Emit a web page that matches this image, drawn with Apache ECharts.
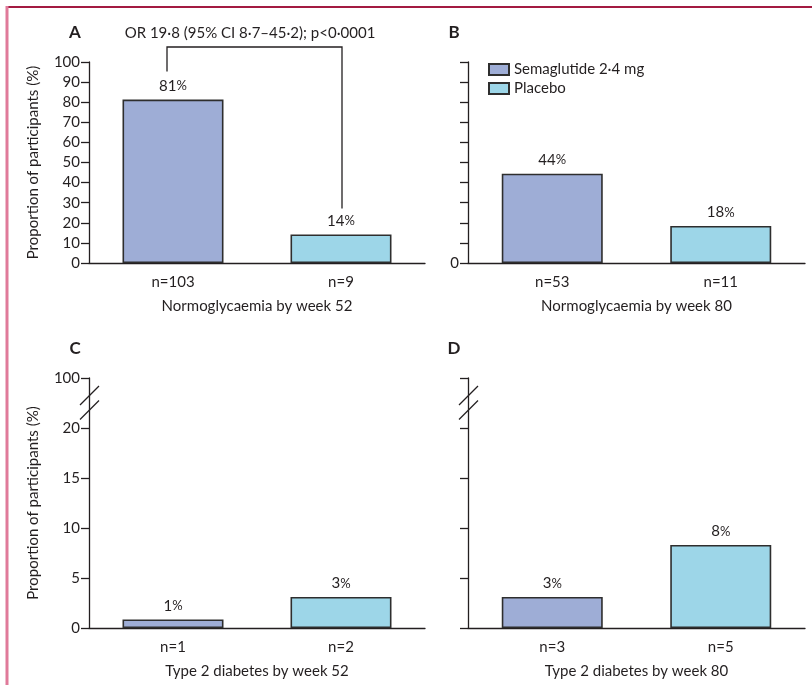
<!DOCTYPE html>
<html>
<head>
<meta charset="utf-8">
<script src="https://cdn.jsdelivr.net/npm/echarts@6/dist/echarts.min.js"></script>
<style>
html,body{margin:0;padding:0;background:#fff;}
#main{width:812px;height:685px;}
</style>
</head>
<body>
<div id="main"></div>
<script>
// data
const seriesNames = ['Semaglutide 2·4 mg', 'Placebo'];
const catA = ['n=103', 'n=9'];
const catB = ['n=53', 'n=11'];
const catC = ['n=1', 'n=2'];
const catD = ['n=3', 'n=5'];
const valA = [81.3, 14.2];
const valB = [44.4, 18.4];
const valC = [0.85, 3.1];
const valD = [3.1, 8.3];
const titleA = 'Normoglycaemia by week 52';
const titleB = 'Normoglycaemia by week 80';
const titleC = 'Type 2 diabetes by week 52';
const titleD = 'Type 2 diabetes by week 80';
const ticksTop = ['0', '10', '20', '30', '40', '50', '60', '70', '80', '90', '100'];
const ticksBottom = ['0', '5', '10', '15', '20', '100']; // 100 sits above the axis break
const oddsText = 'OR 19·8 (95% CI 8·7–45·2); p<0·0001';
const yName = 'Proportion of participants (%)';

const FONT = 'Lato';
const FS = 15;
const INK = '#231f20';
const colors = ['#9eadd6', '#9dd6e8'];

let myChart = echarts.init(document.getElementById('main'));

const grids = [
    {left: 89, top: 62, width: 336, height: 201},
    {left: 468, top: 62, width: 337, height: 201},
    {left: 89, top: 378, width: 336, height: 250},
    {left: 468, top: 378, width: 337, height: 250}
];

function xAxis(i, cats, name) {
    return {
        type: 'category', gridIndex: i, data: cats,
        name: name, nameLocation: 'middle', nameGap: 36,
        nameTextStyle: {fontFamily: FONT, fontSize: FS, color: INK},
        axisLine: {lineStyle: {color: INK, width: 1.3}},
        axisTick: {length: 6, lineStyle: {color: INK, width: 1.3}},
        axisLabel: {fontFamily: FONT, fontSize: FS, color: INK, margin: 12}
    };
}

function yAxis(i, max, interval, fmt, name) {
    return {
        type: 'value', gridIndex: i, min: 0, max: max, interval: interval,
        name: name || '', nameLocation: 'middle', nameGap: 48, nameRotate: 90,
        nameTextStyle: {fontFamily: FONT, fontSize: FS, color: INK},
        splitLine: {show: false},
        axisLine: {show: true, lineStyle: {color: INK, width: 1.3}},
        axisTick: {show: true, length: 8, lineStyle: {color: INK, width: 1.3}},
        axisLabel: {fontFamily: FONT, fontSize: FS, color: INK, margin: 9, formatter: fmt}
    };
}

function pctLabel(p) {
    return '{v|' + Math.round(p.value) + '}{p|%}';
}

function barSeries(i, vals) {
    return seriesNames.map(function (name, k) {
        return {
            name: name, type: 'bar', xAxisIndex: i, yAxisIndex: i,
            barWidth: 101, barGap: '-100%',
            data: vals.map(function (v, j) { return j === k ? v : '-'; }),
            itemStyle: {color: colors[k], borderColor: '#2e2e2e', borderWidth: 1.6},
            label: {
                show: true, position: 'top', distance: 6, formatter: pctLabel,
                rich: {
                    v: {fontFamily: FONT, fontSize: FS, color: INK},
                    p: {fontFamily: FONT, fontSize: 13, color: INK}
                }
            }
        };
    });
}

let option = {
    animation: false,
    grid: grids,
    legend: {
        left: 483, top: 57, orient: 'vertical', itemWidth: 20, itemHeight: 11, itemGap: 4,
        icon: 'rect', data: seriesNames,
        textStyle: {fontFamily: FONT, fontSize: FS, color: INK}
    },
    xAxis: [xAxis(0, catA, titleA), xAxis(1, catB, titleB), xAxis(2, catC, titleC), xAxis(3, catD, titleD)],
    yAxis: [
        yAxis(0, 100, 10, function (v) { return ticksTop[v / 10]; }, yName),
        yAxis(1, 100, 10, function (v) { return v === 0 ? ticksTop[0] : ''; }),
        yAxis(2, 25, 5, function (v) { return ticksBottom[v / 5]; }, yName),
        yAxis(3, 25, 5, function () { return ''; })
    ],
    series: [].concat(barSeries(0, valA), barSeries(1, valB), barSeries(2, valC), barSeries(3, valD))
};
myChart.setOption(option);

// decorations: frame, panel letters, bracket, axis breaks
function px(i, x, y) { return myChart.convertToPixel({gridIndex: i}, [x, y]); }

let g = [];
g.push({type: 'line', shape: {x1: 6, y1: 7, x2: 812, y2: 7}, style: {stroke: '#a31a41', lineWidth: 2}});
g.push({type: 'line', shape: {x1: 7, y1: 6, x2: 7, y2: 685}, style: {stroke: '#e07a9a', lineWidth: 3}});

const letters = [['A', 0], ['B', 1], ['C', 2], ['D', 3]];
letters.forEach(function (l) {
    let gr = grids[l[1]];
    g.push({type: 'text', x: gr.left - 14, y: gr.top - 29,
        style: {text: l[0], font: 'bold 17px ' + FONT, fill: INK, align: 'center', verticalAlign: 'middle'}});
});

let pA0 = px(0, catA[0], valA[0]);
let pA1 = px(0, catA[1], valA[1]);
let yTop = px(0, catA[0], 100)[1] - 15;
g.push({type: 'polyline',
    shape: {points: [[pA0[0] - 6, pA0[1] - 28], [pA0[0] - 6, yTop], [pA1[0] + 1, yTop], [pA1[0] + 1, pA1[1] - 26]]},
    style: {stroke: INK, lineWidth: 1.3, fill: null}});
g.push({type: 'text', x: (pA0[0] + pA1[0]) / 2 - 7, y: yTop - 14,
    style: {text: oddsText, font: FS + 'px ' + FONT, fill: INK, align: 'center', verticalAlign: 'middle'}});

[2, 3].forEach(function (i) {
    let ax = grids[i].left;
    let top = px(i, catC[0], 25)[1];
    g.push({type: 'rect', shape: {x: ax - 3, y: top + 19, width: 6, height: 11}, style: {fill: '#fff'}});
    [17.5, 32].forEach(function (dy) {
        g.push({type: 'line',
            shape: {x1: ax - 9, y1: top + dy + 9.5, x2: ax + 10, y2: top + dy - 9.5},
            style: {stroke: INK, lineWidth: 1.3}});
    });
});

myChart.setOption({graphic: {elements: g}});
</script>
</body>
</html>
